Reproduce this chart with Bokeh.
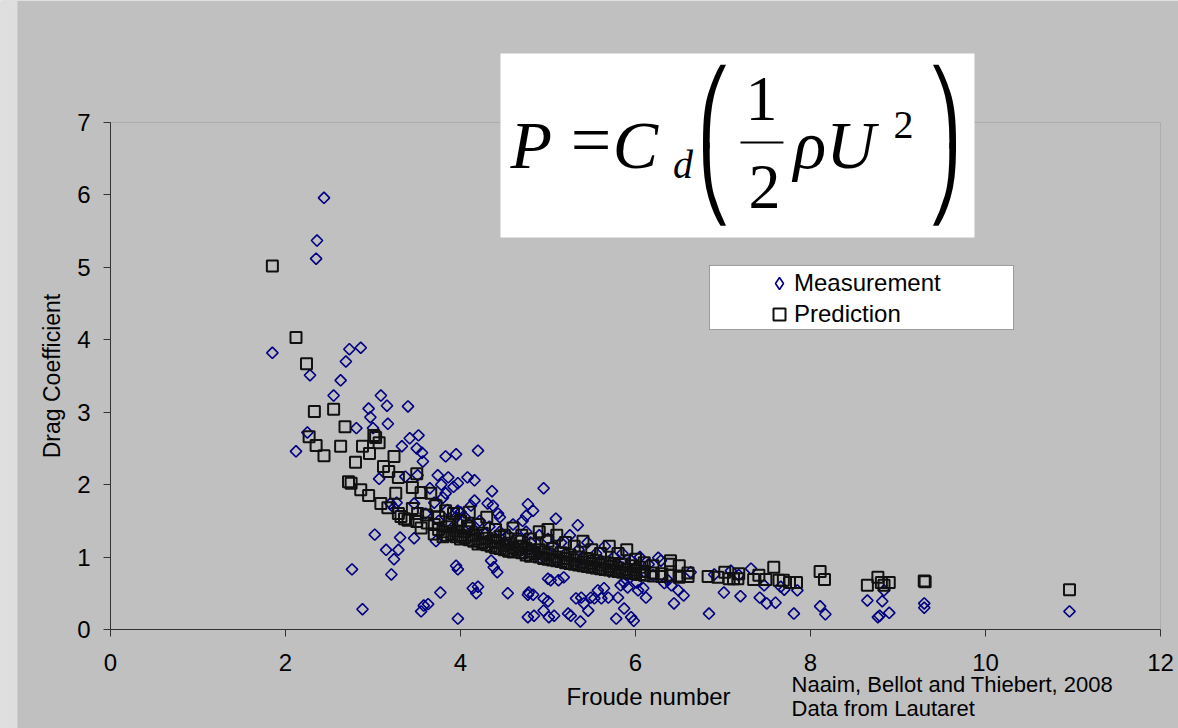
from bokeh.plotting import figure
from bokeh.models import (ColumnDataSource, Range1d, FixedTicker, Label, BoxAnnotation,
                          Legend, LegendItem)
from bokeh.embed import file_html
from bokeh.resources import INLINE

# ---------------- data ----------------
meas_x = [2.44, 2.36, 2.35, 1.85, 2.73, 2.86, 2.69, 2.28, 2.63, 2.55, 3.09, 3.16, 3.40, 2.95, 2.97,
          3.17, 2.81, 3.00, 2.25, 3.42, 3.52, 2.12, 3.33, 3.50, 3.56, 3.57, 3.83, 3.95, 4.20, 3.74,
          3.07, 3.86, 4.08, 4.16, 4.36, 3.92, 3.97, 3.37, 3.51, 3.83, 3.80, 3.97, 4.00, 4.16, 4.12,
          4.31, 4.37, 4.43, 4.45, 4.77, 4.83, 4.75, 4.71, 4.95, 5.09, 5.34, 3.27, 3.20, 3.24, 3.47,
          3.02, 3.31, 3.47, 3.72, 3.15, 3.29, 3.24, 2.76, 3.21, 3.95, 3.97, 4.35, 4.38, 4.42, 5.00,
          5.03, 5.12, 5.18, 3.77, 4.14, 4.20, 4.18, 4.54, 4.78, 4.83, 4.77, 4.95, 5.00, 2.88, 3.58,
          3.63, 3.55, 3.97, 4.77, 4.84, 4.95, 5.01, 5.23, 5.26, 5.07, 5.37, 5.46, 5.32, 5.38, 5.41,
          5.49, 5.57, 5.64, 5.53, 5.61, 5.69, 5.83, 5.87, 5.91, 6.01, 6.03, 6.09, 6.12, 5.80, 5.78,
          5.87, 5.95, 5.98, 6.26, 6.29, 6.33, 6.41, 6.49, 6.55, 6.44, 6.37, 6.63, 6.84, 7.01, 7.20,
          7.32, 7.42, 7.50, 7.60, 7.81, 7.85, 7.47, 7.66, 7.70, 8.11, 8.17, 8.65, 8.82, 8.84, 8.90,
          8.79, 8.77, 9.30, 9.30, 10.96, 6.90, 7.09, 7.18,
          4.05, 4.10, 4.15, 4.22, 4.28, 4.33, 4.40, 4.45, 4.50, 4.55, 4.60, 4.62, 4.68, 4.70, 4.75,
          4.80, 4.85, 4.90, 4.95, 5.00, 5.05, 5.10, 5.15, 5.20, 5.25, 5.30, 5.35, 5.40, 5.45, 5.50,
          5.55, 5.60, 5.65, 5.70, 5.75, 5.80, 5.85, 5.90, 5.95, 6.00, 6.05, 6.10, 6.15, 6.20, 3.60,
          3.70, 3.75, 3.85, 3.90, 3.95, 3.65, 3.78]
meas_y = [5.96, 5.37, 5.12, 3.82, 3.87, 3.89, 3.70, 3.51, 3.44, 3.23, 3.23, 3.09, 3.08, 3.05, 2.93,
          2.84, 2.78, 2.78, 2.72, 2.64, 2.68, 2.46, 2.53, 2.50, 2.44, 2.32, 2.39, 2.42, 2.47, 2.13,
          2.08, 2.10, 2.10, 2.06, 1.91, 1.97, 2.02, 2.11, 2.13, 1.88, 1.82, 1.64, 1.62, 1.78, 1.71,
          1.74, 1.71, 1.60, 1.55, 1.73, 1.64, 1.57, 1.50, 1.95, 1.53, 1.44, 1.75, 1.74, 1.68, 1.74,
          1.31, 1.27, 1.26, 1.22, 1.10, 1.10, 0.97, 0.83, 0.76, 0.88, 0.83, 0.95, 0.86, 0.79, 0.70,
          0.68, 0.68, 0.72, 0.51, 0.57, 0.59, 0.50, 0.50, 0.51, 0.48, 0.48, 0.43, 0.39, 0.28, 0.33,
          0.35, 0.25, 0.15, 0.17, 0.19, 0.26, 0.17, 0.22, 0.19, 0.19, 0.11, 0.26, 0.43, 0.44, 0.36,
          0.44, 0.54, 0.57, 0.43, 0.43, 0.44, 0.61, 0.65, 0.58, 0.65, 0.54, 0.57, 0.44, 0.44, 0.15,
          0.29, 0.17, 0.12, 0.99, 0.95, 0.64, 0.61, 0.54, 0.47, 0.36, 0.68, 0.79, 0.22, 0.51, 0.46,
          0.84, 0.44, 0.36, 0.37, 0.22, 0.54, 0.61, 0.59, 0.55, 0.32, 0.21, 0.40, 0.39, 0.54, 0.23,
          0.19, 0.17, 0.36, 0.30, 0.25, 0.76, 0.81, 0.75,
          1.55, 1.45, 1.38, 1.50, 1.32, 1.42, 1.25, 1.35, 1.20, 1.30, 1.45, 1.15, 1.25, 1.05, 1.35,
          1.20, 1.10, 1.30, 1.00, 1.25, 1.15, 0.95, 1.20, 1.05, 1.30, 0.90, 1.10, 1.00, 1.20, 0.85,
          1.05, 0.95, 1.15, 0.80, 1.00, 0.90, 1.05, 0.75, 0.95, 0.85, 1.00, 0.80, 0.90, 0.75, 1.60,
          1.75, 1.50, 1.65, 1.40, 1.55, 1.95, 2.00]

pred_x = [1.85, 2.12, 2.24, 2.33, 2.55, 2.27, 2.35, 2.44, 2.63, 2.68, 2.80, 2.72, 2.75, 2.86, 2.95,
          2.88, 2.96, 3.01, 3.03, 3.07, 3.24, 3.12, 3.18, 3.09, 3.17, 3.26, 3.29, 3.32, 3.36, 3.40,
          3.45, 3.51, 3.61, 3.50, 3.55, 3.62, 3.72, 3.83, 3.92, 4.08, 3.29, 3.50, 3.45, 3.55, 3.66,
          3.70, 3.70, 3.75, 3.75, 3.80, 3.80, 3.85, 3.85, 3.90, 3.90, 3.95, 3.95,
          4.00, 4.00, 4.00, 4.05, 4.05, 4.10, 4.10, 4.10, 4.15, 4.15, 4.20, 4.20, 4.20, 4.25, 4.25,
          4.30, 4.30, 4.30, 4.35, 4.35, 4.40, 4.40, 4.40, 4.45, 4.45, 4.50, 4.50, 4.50, 4.55, 4.55,
          4.60, 4.60, 4.60, 4.65, 4.65, 4.70, 4.70, 4.70, 4.75, 4.75, 4.80, 4.80, 4.80, 4.85, 4.85,
          4.90, 4.90, 4.90, 4.95, 4.95, 5.00, 5.00, 5.00, 5.00, 5.05, 5.05, 5.10, 5.10, 5.10, 5.15,
          5.15, 5.20, 5.20, 5.20, 5.25, 5.25, 5.30, 5.30, 5.30, 5.35, 5.35, 5.40, 5.40, 5.40, 5.45,
          5.45, 5.50, 5.50, 5.50, 5.55, 5.55, 5.60, 5.60, 5.60, 5.65, 5.65, 5.70, 5.70, 5.70, 5.75,
          5.75, 5.80, 5.80, 5.80, 5.85, 5.85, 5.90, 5.90, 5.90, 5.95, 5.95, 6.00, 6.00, 6.00, 6.05,
          6.05, 6.10, 6.10, 6.10, 6.20, 6.20, 6.20, 6.30, 6.30, 6.40, 6.40, 6.40, 6.50, 6.50, 6.50,
          6.60, 6.60,
          6.83, 6.94, 7.02, 7.07, 7.12, 7.18, 7.17, 7.35, 7.41, 7.49, 7.58, 7.64, 7.69, 7.76, 7.84,
          8.11, 8.16, 8.65, 8.77, 8.81, 8.90, 8.84, 9.30, 9.31, 10.96]
pred_y = [5.02, 4.03, 3.67, 3.01, 3.04, 2.66, 2.54, 2.40, 2.53, 2.80, 2.31, 2.04, 2.02, 1.93, 1.85,
          2.53, 2.43, 2.68, 2.65, 2.58, 2.39, 2.25, 2.18, 1.74, 1.68, 1.88, 1.60, 1.56, 1.53, 1.51,
          1.67, 1.60, 1.58, 1.49, 1.40, 1.47, 1.71, 1.64, 1.60, 1.43, 2.10, 2.15, 1.96, 1.89, 1.88,
          1.45, 1.32, 1.38, 1.55, 1.35, 1.28, 1.42, 1.30, 1.32, 1.48, 1.28, 1.36,
          1.30, 1.25, 1.50, 1.27, 1.35, 1.24, 1.40, 1.62, 1.22, 1.30, 1.25, 1.18, 1.45, 1.20, 1.33,
          1.17, 1.26, 1.55, 1.15, 1.22, 1.20, 1.13, 1.38, 1.12, 1.28, 1.16, 1.10, 1.30, 1.08, 1.19,
          1.13, 1.07, 1.40, 1.10, 1.22, 1.06, 1.15, 1.30, 1.03, 1.12, 1.08, 1.01, 1.25, 1.05, 1.18,
          1.00, 1.10, 1.35, 0.98, 1.07, 1.04, 0.97, 1.22, 1.38, 0.96, 1.12, 1.00, 0.95, 1.30, 0.94,
          1.06, 0.98, 0.92, 1.20, 0.91, 1.03, 0.96, 0.90, 1.15, 0.89, 1.00, 0.93, 0.88, 1.22, 0.87,
          0.98, 0.91, 0.86, 1.10, 0.85, 0.95, 0.89, 0.84, 1.05, 0.83, 0.93, 0.87, 0.82, 1.15, 0.81,
          0.91, 0.85, 0.80, 1.05, 0.79, 0.90, 0.83, 0.78, 1.10, 0.78, 0.88, 0.82, 0.77, 0.97, 0.76,
          0.86, 0.80, 0.75, 0.92, 0.78, 0.74, 0.88, 0.77, 0.73, 0.75, 0.90, 0.95, 0.74, 0.72, 0.88,
          0.73, 0.78,
          0.73, 0.72, 0.79, 0.70, 0.70, 0.77, 0.70, 0.69, 0.75, 0.69, 0.86, 0.68, 0.68, 0.65, 0.65,
          0.80, 0.69, 0.61, 0.72, 0.65, 0.65, 0.61, 0.67, 0.66, 0.55]

x_ticks = [0, 2, 4, 6, 8, 10, 12]
y_ticks = [0, 1, 2, 3, 4, 5, 6, 7]

BG = "#C0C0C0"
SANS = "Liberation Sans"
SERIF = "Liberation Serif"

# The frame covers the whole canvas; both axes are pinned at 0 so that the
# texts around the plot area (formula, credits) can be drawn as annotations.
p = figure(width=1178, height=728, output_backend="svg", toolbar_location=None,
           x_range=Range1d(-1.2571, 12.2057), y_range=Range1d(-1.3669, 8.6844),
           background_fill_color=BG, border_fill_color=BG,
           min_border_left=0, min_border_right=0, min_border_top=0, min_border_bottom=0)
p.grid.visible = False
p.outline_line_color = None

for ax in (p.xaxis[0], p.yaxis[0]):
    ax.fixed_location = 0
    ax.axis_line_color = "#333333"
    ax.major_tick_line_color = "#333333"
    ax.major_tick_in = 0
    ax.major_tick_out = 7
    ax.minor_tick_line_color = None
    ax.major_label_text_font = SANS
    ax.major_label_text_font_size = "24px"
    ax.major_label_text_color = "black"

p.xaxis[0].bounds = (0, 12)
p.yaxis[0].bounds = (0, 7)
p.xaxis[0].ticker = FixedTicker(ticks=x_ticks)
p.yaxis[0].ticker = FixedTicker(ticks=y_ticks)
p.xaxis[0].major_label_standoff = 18
p.yaxis[0].major_label_standoff = 13
p.yaxis[0].axis_label = "Drag Coefficient"
p.yaxis[0].axis_label_text_font = SANS
p.yaxis[0].axis_label_text_font_size = "23px"
p.yaxis[0].axis_label_text_font_style = "normal"
p.yaxis[0].axis_label_text_color = "black"
p.yaxis[0].axis_label_standoff = 9

# slide strip on the far left and the plot-area border
p.add_layout(BoxAnnotation(right=-1.063, fill_color="#DEDEDE", fill_alpha=1.0,
                           line_color=None, level="underlay"))
p.add_layout(BoxAnnotation(left=0, right=12, bottom=0, top=7, fill_alpha=0.0,
                           line_color="#808080", line_width=1, level="underlay"))

meas_src = ColumnDataSource(dict(x=meas_x, y=meas_y))
pred_src = ColumnDataSource(dict(x=pred_x, y=pred_y))

r_meas = p.scatter(x="x", y="y", source=meas_src, marker="square", angle=0.785398, size=8,
                   line_color="#000080", line_width=1.6, fill_color=None)
r_pred = p.scatter(x="x", y="y", source=pred_src, marker="square", size=11,
                   line_color="#111111", line_width=2, fill_color=None)
# hidden renderer that only supplies the diamond symbol of the legend
r_leg = p.scatter(x="x", y="y", source=meas_src, marker="diamond", size=12,
                  line_color="#000080", line_width=1.6, fill_color=None, visible=False)

# legend frame
p.add_layout(BoxAnnotation(left=6.846, right=10.32, bottom=4.142, top=5.026,
                           fill_color="white", fill_alpha=1.0,
                           line_color="black", line_width=1))
legend = Legend(items=[LegendItem(label="Measurement", renderers=[r_leg]),
                       LegendItem(label="Prediction", renderers=[r_pred])],
                location=(764, 399), orientation="vertical",
                padding=2, spacing=1, margin=0,
                glyph_width=30, glyph_height=30, label_height=30, label_standoff=0,
                border_line_color=None, background_fill_alpha=0.0,
                inactive_fill_alpha=0.0,
                label_text_font=SANS, label_text_font_size="24px", label_text_color="black")
p.add_layout(legend)


def dlabel(x, y, t, size, font=SANS, style="normal", align="left", baseline="alphabetic"):
    p.add_layout(Label(x=x, y=y, text=t, text_font=font, text_font_size=size,
                       text_font_style=style, text_align=align,
                       text_baseline=baseline, text_color="black"))


# x axis title and credits
dlabel(6.149, -0.924, "Froude number", "24px", align="center")
dlabel(7.783, -0.759, "Naaim, Bellot and Thiebert, 2008", "22px")
dlabel(7.783, -1.091, "Data from Lautaret", "22px")

# formula box
p.add_layout(BoxAnnotation(left=4.457, right=9.874, bottom=5.412, top=7.953,
                           fill_color="white", fill_alpha=1.0, line_color=None))
dlabel(4.571, 6.696, "P", "68px", SERIF, "italic")
dlabel(5.260, 6.760, "=", "72px", SERIF)
dlabel(5.740, 6.696, "C", "68px", SERIF, "italic")
dlabel(6.430, 6.420, "d", "40px", SERIF, "italic")
# tall parentheses built from hook pieces
dlabel(6.903, 7.22, "\u239b", "70px", "DejaVu Sans", align="center", baseline="middle")
dlabel(6.903, 6.14, "\u239d", "70px", "DejaVu Sans", align="center", baseline="middle")
dlabel(9.531, 7.22, "\u239e", "70px", "DejaVu Sans", align="center", baseline="middle")
dlabel(9.531, 6.14, "\u23a0", "70px", "DejaVu Sans", align="center", baseline="middle")
dlabel(7.440, 7.318, "1", "64px", SERIF, align="center")
p.add_layout(BoxAnnotation(left=7.200, right=7.691, bottom=6.710, top=6.738,
                           fill_color="black", fill_alpha=1.0, line_color=None))
dlabel(7.474, 6.103, "2", "64px", SERIF, align="center")
dlabel(7.806, 6.696, "\u03c1U", "68px", SERIF, "italic")
dlabel(8.949, 6.959, "2", "40px", SERIF)

open("out.html", "w").write(file_html(p, INLINE))
